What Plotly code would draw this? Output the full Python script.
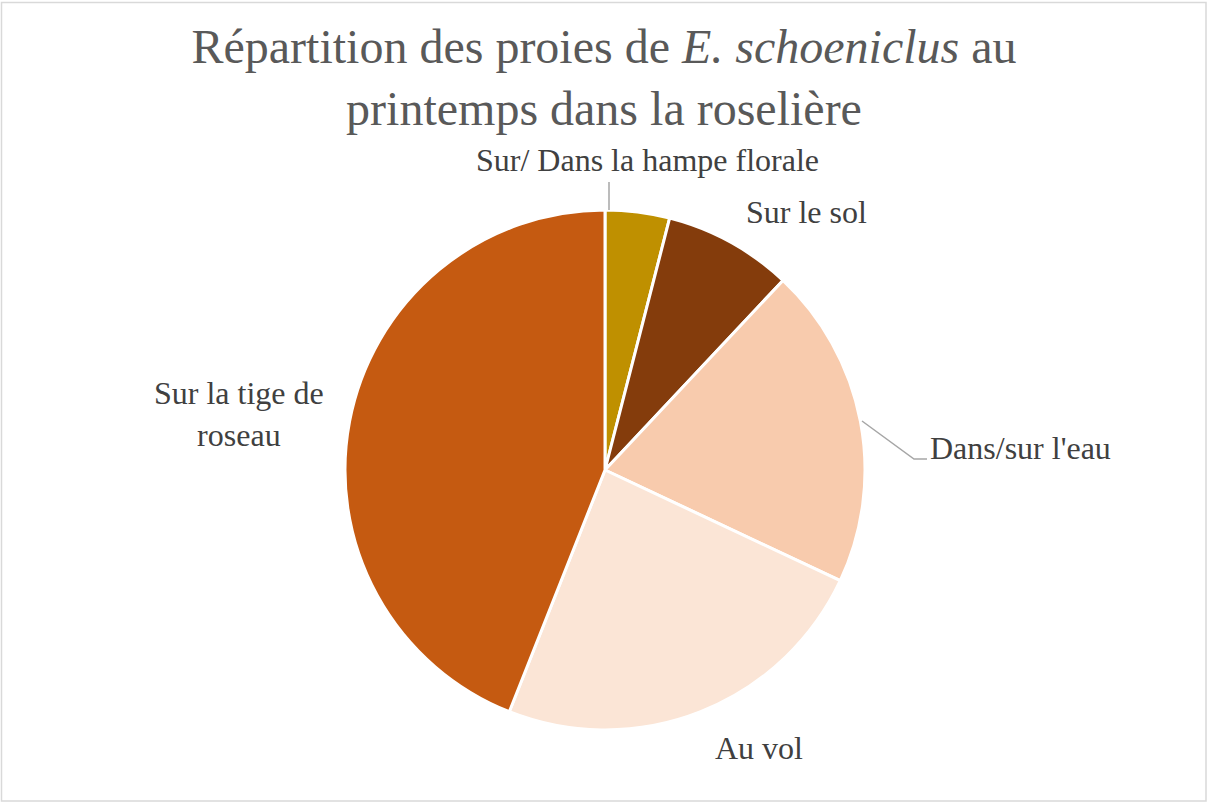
import plotly.graph_objects as go

# Data
categories = ["Sur/ Dans la hampe florale", "Sur le sol", "Dans/sur l'eau", "Au vol",
              "Sur la tige de<br>roseau"]
values = [4, 8, 20, 24, 44]
colors = ["#BF9000", "#843C0C", "#F8CBAD", "#FBE5D6", "#C55A11"]

W, H = 1208, 803
CX, CY, RAD = 605, 470, 260
L = CX - RAD
R = W - (CX + RAD)
T = CY - RAD
B = H - (CY + RAD)
PW, PH = W - L - R, H - T - B

SERIF = "Liberation Serif, Times New Roman, Times, serif"


def px(x):
    return (x - L) / PW


def py(y):
    return (H - B - y) / PH


fig = go.Figure(go.Pie(
    labels=categories,
    values=values,
    marker=dict(colors=colors, line=dict(color="white", width=3)),
    sort=False,
    direction="clockwise",
    rotation=0,
    textinfo="none",
    hoverinfo="label+value",
    showlegend=False,
))

label_pos = [(647, 160), (806, 212), (1020, 448), (759, 748), (239, 414)]
annotations = []
for lab, (x, y) in zip(categories, label_pos):
    annotations.append(dict(
        text=lab, x=px(x), y=py(y), xref="paper", yref="paper",
        xanchor="center", yanchor="middle", showarrow=False,
        font=dict(family=SERIF, size=32, color="#404040"),
    ))

lead = dict(color="#A6A6A6", width=1.5)
shapes = [
    dict(type="line", xref="paper", yref="paper",
         x0=px(609), y0=py(182), x1=px(609), y1=py(210), line=lead),
    dict(type="path", xref="paper", yref="paper",
         path=f"M {px(862)} {py(421)} L {px(914)} {py(459)} L {px(927)} {py(459)}",
         line=lead),
    dict(type="rect", xref="paper", yref="paper",
         x0=px(1.5), y0=py(2.5), x1=px(1206), y1=py(801),
         line=dict(color="#D9D9D9", width=1.5)),
]

fig.update_layout(
    width=W, height=H,
    margin=dict(l=L, r=R, t=T, b=B),
    paper_bgcolor="white",
    plot_bgcolor="white",
    title=dict(
        text="Répartition des proies de <i>E. schoeniclus</i> au<br>printemps dans la roselière",
        x=604 / W, xref="container", xanchor="center",
        y=1 - 63 / H, yref="container", yanchor="top",
        font=dict(family=SERIF, size=48, color="#595959"),
    ),
    annotations=annotations,
    shapes=shapes,
)

fig.write_html(
    "out.html",
    config={"displayModeBar": False},
    post_script="document.body.style.margin='0';document.body.style.overflow='hidden';",
)
